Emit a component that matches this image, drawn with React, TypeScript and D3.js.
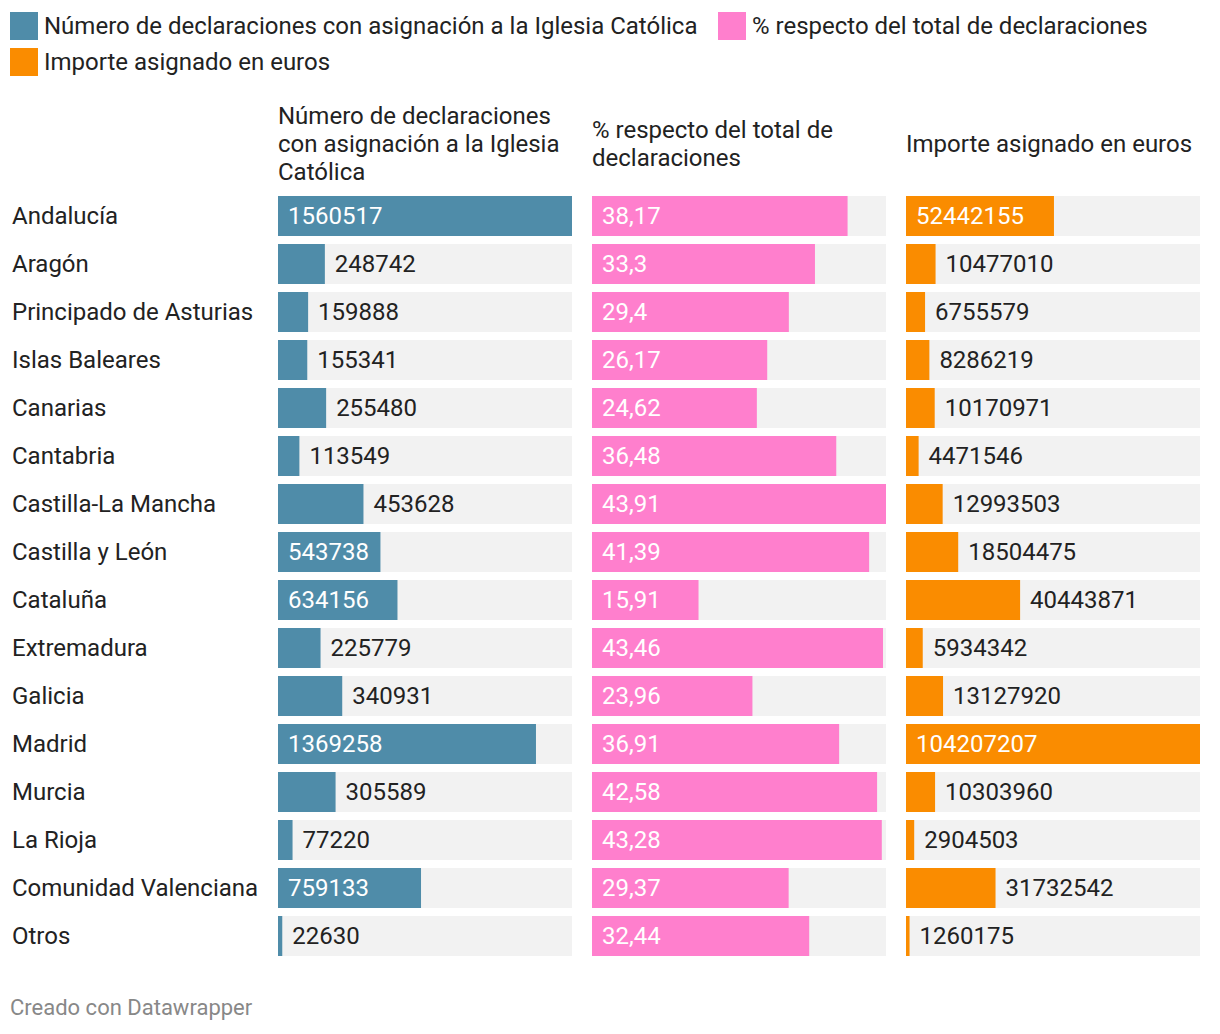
import React from "react";
import * as d3 from "d3";

const regions = [
  "Andalucía", "Aragón", "Principado de Asturias", "Islas Baleares", "Canarias",
  "Cantabria", "Castilla-La Mancha", "Castilla y León", "Cataluña", "Extremadura",
  "Galicia", "Madrid", "Murcia", "La Rioja", "Comunidad Valenciana", "Otros",
];
const declaraciones = [
  1560517, 248742, 159888, 155341, 255480, 113549, 453628, 543738, 634156, 225779,
  340931, 1369258, 305589, 77220, 759133, 22630,
];
const porcentaje = [
  38.17, 33.3, 29.4, 26.17, 24.62, 36.48, 43.91, 41.39, 15.91, 43.46,
  23.96, 36.91, 42.58, 43.28, 29.37, 32.44,
];
const importe = [
  52442155, 10477010, 6755579, 8286219, 10170971, 4471546, 12993503, 18504475, 40443871, 5934342,
  13127920, 104207207, 10303960, 2904503, 31732542, 1260175,
];
const seriesNames = [
  "Número de declaraciones con asignación a la Iglesia Católica",
  "% respecto del total de declaraciones",
  "Importe asignado en euros",
];
const headerLines = [
  ["Número de declaraciones", "con asignación a la Iglesia", "Católica"],
  ["% respecto del total de", "declaraciones"],
  ["Importe asignado en euros"],
];
const colors = ["#4f8ca9", "#ff7fcd", "#fa8c00"];

const W = 1220;
const H = 1034;
const FONT = "Roboto, 'Noto Sans', sans-serif";
const FS = 24;
const DY = "0.33em";
const colX = [278, 592, 906];
const colW = 294;
const rowTop = 196;
const rowStep = 48;
const rowH = 40;

let ctx: CanvasRenderingContext2D | null = null;
function textW(s: string): number {
  if (!ctx) {
    const c = document.createElement("canvas");
    ctx = c.getContext("2d");
  }
  if (!ctx) return s.length * 13.5;
  ctx.font = FS + "px Roboto";
  return ctx.measureText(s).width;
}

const fmt = [
  (v: number) => String(v),
  (v: number) => String(v).replace(".", ","),
  (v: number) => String(v),
];

export default function App() {
  const data = [declaraciones, porcentaje, importe];
  const y = d3.scaleBand<number>().domain(d3.range(regions.length)).range([rowTop, rowTop + rowStep * regions.length]).paddingInner(0);

  return (
    <svg width={W} height={H} style={{ position: "absolute", left: 0, top: 0, background: "#fff" }} fontFamily={FONT}>
      {/* Legend */}
      <g fontSize={FS} fill="#222">
        <rect x={10} y={12} width={28} height={28} fill={colors[0]} />
        <text x={44} y={26} dy={DY}>{seriesNames[0]}</text>
        <rect x={718} y={12} width={28} height={28} fill={colors[1]} />
        <text x={752} y={26} dy={DY}>{seriesNames[1]}</text>
        <rect x={10} y={48} width={28} height={28} fill={colors[2]} />
        <text x={44} y={62} dy={DY}>{seriesNames[2]}</text>
      </g>
      {/* Headers */}
      <g fontSize={FS} fill="#222">
        {headerLines.map((lines, c) => {
          const start = 144 - ((lines.length - 1) * 28) / 2;
          return lines.map((l, i) => (
            <text key={c + "-" + i} x={colX[c]} y={start + i * 28} dy={DY}>{l}</text>
          ));
        })}
      </g>
      {/* Row labels */}
      <g fontSize={FS} fill="#222">
        {regions.map((r, i) => (
          <text key={r} x={12} y={(y(i) as number) + rowH / 2} dy={DY}>{r}</text>
        ))}
      </g>
      {/* Bars */}
      {data.map((vals, c) => {
        const x = d3.scaleLinear().domain([0, d3.max(vals) as number]).range([0, colW]);
        return (
          <g key={c} fontSize={FS}>
            {vals.map((v, i) => {
              const top = y(i) as number;
              const w = x(v);
              const label = fmt[c](v);
              const tw = textW(label);
              const inside = w > tw + 16;
              return (
                <g key={i}>
                  <rect x={colX[c]} y={top} width={colW} height={rowH} fill="#f2f2f2" />
                  <rect x={colX[c]} y={top} width={w} height={rowH} fill={colors[c]} />
                  <text
                    x={inside ? colX[c] + 10 : colX[c] + w + 10}
                    y={top + rowH / 2}
                    dy={DY}
                    fill={inside ? "#ffffff" : "#222"}
                  >
                    {label}
                  </text>
                </g>
              );
            })}
          </g>
        );
      })}
      {/* Footer */}
      <text x={10} y={1008} dy={DY} fontSize={22} fill="#888">Creado con Datawrapper</text>
    </svg>
  );
}
